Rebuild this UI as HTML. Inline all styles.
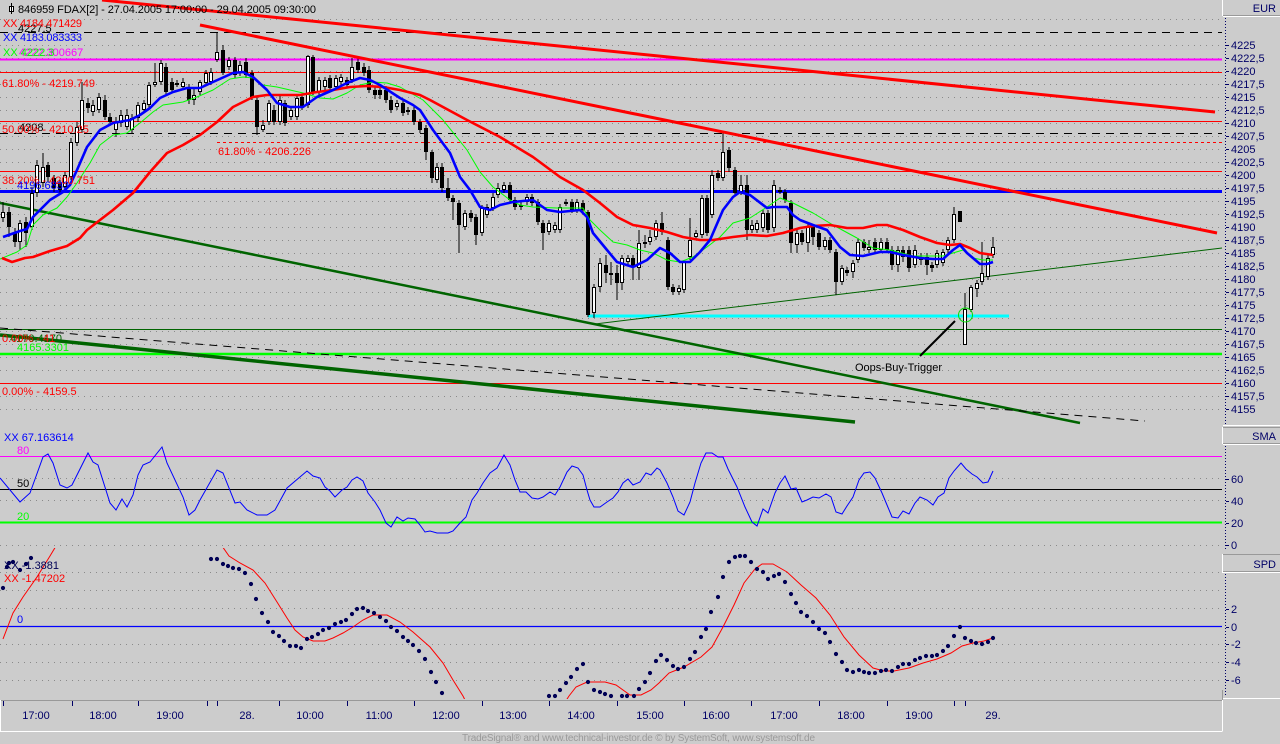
<!DOCTYPE html>
<html><head><meta charset="utf-8"><style>
html,body{margin:0;padding:0;background:#cccccc;}
svg{display:block;}
text{font-family:"Liberation Sans",sans-serif;font-size:11px;}
</style></head><body>
<svg xmlns="http://www.w3.org/2000/svg" width="1280" height="744" viewBox="0 0 1280 744">
<defs>
<clipPath id="spd"><rect x="0" y="548" width="1222" height="151"/></clipPath>
<clipPath id="sma"><rect x="0" y="440" width="1222" height="112"/></clipPath>
</defs>
<rect width="1280" height="744" fill="#cccccc"/>

<!-- grid dotted main -->
<g stroke="#8a8a8a" stroke-width="1" stroke-dasharray="1 5" fill="none">
<path d="M0 19.5H1222M0 45.5H1222M0 58.5H1222M0 71.5H1222M0 84.5H1222M0 97.5H1222M0 110.5H1222M0 123.5H1222M0 136.5H1222M0 149.5H1222M0 162.5H1222M0 175.5H1222M0 188.5H1222M0 201.5H1222M0 214.5H1222M0 227.5H1222M0 240.5H1222M0 253.5H1222M0 266.5H1222M0 279.5H1222M0 292.5H1222M0 305.5H1222M0 318.5H1222M0 331.5H1222M0 344.5H1222M0 357.5H1222M0 370.5H1222M0 383.5H1222M0 396.5H1222M0 409.5H1222"/>
<path d="M0 478.5H1222M0 500.5H1222M0 545.5H1222"/>
<path d="M0 572.5H1222M0 590.5H1222M0 608.5H1222M0 644.5H1222M0 662.5H1222M0 680.5H1222"/>
</g>

<!-- horizontal level lines -->
<g fill="none">
<path d="M0 32.5H1222" stroke="#000" stroke-dasharray="8 6"/>
<path d="M0 59.5H1222" stroke="#ff00ff" stroke-width="2"/>
<path d="M0 72.5H1222" stroke="#ff0000"/>
<path d="M0 121.5H1222" stroke="#ff0000"/>
<path d="M0 133.5H1222" stroke="#000" stroke-dasharray="8 6"/>
<path d="M217 142.5H1222" stroke="#ff0000" stroke-dasharray="3 3"/>
<path d="M0 171.5H1222" stroke="#ff0000"/>
<path d="M0 191.5H1222" stroke="#0000ff" stroke-width="3"/>
<path d="M0 329.5H1222" stroke="#006400"/>
<path d="M0 354H1222" stroke="#00ff00" stroke-width="2.5"/>
<path d="M0 383.5H1222" stroke="#ff0000"/>
<path d="M588 316H1009" stroke="#00ffff" stroke-width="3"/>
</g>

<!-- trend lines (under) -->
<g fill="none">
<path d="M0 203L1080 423" stroke="#006400" stroke-width="2.5"/>
<path d="M0 335L855 422" stroke="#006400" stroke-width="3.5"/>
<path d="M0 328L1145 421" stroke="#000" stroke-dasharray="8 6"/>
<path d="M595 324L1222 248" stroke="#006400" stroke-width="1"/>
</g>

<!-- candles -->
<g shape-rendering="crispEdges">
<path fill="none" stroke="#000" stroke-width="1" d="M3 202V222M9 207V237M15 228V247M20 220V250M26 217V247M32 187V230M37 160V197M43 153V187M48 162V182M54 175V192M60 180V194M65 172V190M71 138V180M77 122V146M82 82V133M88 98V113M93 100V116M99 93V113M105 95V120M110 113V126M116 117V137M121 110V127M127 109V130M132 114V133M138 102V122M144 100V113M149 82V108M155 63V87M161 60V85M166 63V95M172 78V93M177 80V87M183 78V90M189 84V104M194 87V105M200 80V95M206 70V86M211 68V85M217 32V62M223 45V75M229 57V70M235 57V78M240 61V76M246 58V78M252 70V100M257 97V135M263 120V132M269 100V125M274 105V125M280 96V125M285 100V126M291 106V120M297 95V120M302 94V110M308 55V108M313 55V95M319 77V95M325 77V90M330 75V92M336 75V90M341 74V85M347 77V88M352 58V83M358 58V73M364 63V76M369 66V93M375 86V99M380 86V99M386 86V103M391 96V113M397 100V110M403 100V116M408 107V115M414 107V125M420 119V133M426 125V160M432 150V183M437 163V183M442 163V192M448 178V201M453 195V220M459 200V253M465 210V230M471 210V222M476 214V245M482 205V236M487 204V218M493 193V211M498 183V198M504 182V193M510 182V203M515 197V210M521 202V210M527 194V205M532 194V206M538 199V225M543 220V250M549 220V235M555 222V233M560 204V233M566 199V206M572 199V213M577 199V213M583 200V213M588 210V317M594 284V318M600 258V292M606 255V283M611 262V285M617 265V300M622 255V290M628 255V265M633 255V280M639 230V280M645 235V248M650 230V245M656 220V240M662 212V235M668 237V290M673 284V295M679 285V295M684 260V293M690 218V260M696 230V240M702 195V238M707 195V236M712 170V218M718 170V181M723 133V181M729 147V172M735 167V196M741 175V195M747 175V240M752 220V233M757 220V233M763 210V232M768 210V233M774 180V232M780 187V194M785 189V203M791 200V253M797 230V253M802 230V245M808 224V252M813 224V245M819 230V250M825 237V250M830 237V253M836 249V295M842 265V285M847 267V276M853 260V278M858 238V263M864 239V251M869 240V253M875 238V253M881 238V253M887 238V253M892 246V270M898 246V272M903 246V262M909 246V272M915 245V268M921 253V265M927 253V275M932 262V272M937 250V268M943 249V266M948 237V253M954 207V243M965 293V345M971 285V312M977 280V297M982 242V285M988 255V280M993 237V258"/>
<path fill="#000" d="M7 212h4v15h-4zM13 233h4v9h-4zM24 222h4v11h-4zM46 165h4v12h-4zM52 178h4v10h-4zM58 183h4v7h-4zM86 103h4v5h-4zM103 100h4v17h-4zM108 117h4v5h-4zM164 67h4v25h-4zM170 82h4v8h-4zM175 83h4v2h-4zM187 87h4v13h-4zM221 50h4v23h-4zM233 60h4v15h-4zM244 62h4v13h-4zM250 73h4v24h-4zM255 100h4v27h-4zM272 110h4v12h-4zM283 103h4v20h-4zM300 97h4v10h-4zM311 57h4v35h-4zM328 78h4v10h-4zM345 80h4v5h-4zM356 62h4v8h-4zM362 67h4v6h-4zM367 70h4v20h-4zM373 90h4v5h-4zM378 90h4v5h-4zM384 90h4v10h-4zM389 100h4v10h-4zM401 103h4v10h-4zM412 110h4v12h-4zM418 122h4v8h-4zM424 128h4v24h-4zM430 152h4v26h-4zM440 167h4v21h-4zM446 188h4v10h-4zM451 198h4v4h-4zM457 203h4v22h-4zM469 213h4v5h-4zM474 217h4v18h-4zM508 185h4v15h-4zM513 200h4v7h-4zM530 197h4v6h-4zM536 202h4v20h-4zM541 223h4v10h-4zM570 202h4v8h-4zM581 203h4v7h-4zM586 212h4v103h-4zM604 265h4v8h-4zM615 273h4v10h-4zM631 258h4v9h-4zM660 223h4v9h-4zM666 240h4v47h-4zM671 287h4v5h-4zM705 198h4v35h-4zM716 173h4v5h-4zM727 150h4v18h-4zM733 170h4v23h-4zM745 185h4v45h-4zM766 213h4v17h-4zM783 192h4v8h-4zM789 203h4v40h-4zM800 233h4v9h-4zM811 227h4v10h-4zM817 233h4v14h-4zM828 240h4v10h-4zM834 252h4v30h-4zM845 270h4v3h-4zM862 242h4v6h-4zM873 242h4v8h-4zM885 242h4v8h-4zM890 250h4v15h-4zM901 250h4v7h-4zM907 250h4v18h-4zM919 257h4v3h-4zM925 257h4v8h-4zM930 265h4v3h-4zM958 211h4v11h-4z"/>
<path fill="#fff" stroke="#000" stroke-width="1" d="M1.5 212.5h3v5h-3zM18.5 223.5h3v18h-3zM30.5 193.5h3v33h-3zM35.5 165.5h3v27h-3zM41.5 167.5h3v15h-3zM63.5 175.5h3v11h-3zM69.5 142.5h3v34h-3zM75.5 127.5h3v15h-3zM80.5 100.5h3v29h-3zM91.5 105.5h3v6h-3zM97.5 97.5h3v12h-3zM114.5 122.5h3v7h-3zM119.5 115.5h3v7h-3zM125.5 115.5h3v11h-3zM130.5 118.5h3v11h-3zM136.5 105.5h3v12h-3zM142.5 103.5h3v6h-3zM147.5 85.5h3v19h-3zM153.5 82.5h3v2h-3zM159.5 63.5h3v18h-3zM181.5 82.5h3v4h-3zM192.5 95.5h3v4h-3zM198.5 82.5h3v9h-3zM204.5 73.5h3v9h-3zM209.5 72.5h3v9h-3zM215.5 52.5h3v7h-3zM227.5 60.5h3v6h-3zM238.5 65.5h3v7h-3zM261.5 125.5h3v4h-3zM267.5 103.5h3v18h-3zM278.5 100.5h3v21h-3zM289.5 110.5h3v6h-3zM295.5 98.5h3v18h-3zM306.5 56.5h3v48h-3zM317.5 80.5h3v11h-3zM323.5 80.5h3v6h-3zM334.5 78.5h3v8h-3zM339.5 77.5h3v4h-3zM350.5 67.5h3v12h-3zM395.5 103.5h3v3h-3zM406.5 110.5h3v1h-3zM435.5 167.5h3v12h-3zM463.5 213.5h3v13h-3zM480.5 208.5h3v24h-3zM485.5 207.5h3v7h-3zM491.5 197.5h3v10h-3zM496.5 188.5h3v6h-3zM502.5 185.5h3v4h-3zM519.5 205.5h3v1h-3zM525.5 197.5h3v4h-3zM547.5 223.5h3v8h-3zM553.5 225.5h3v4h-3zM558.5 207.5h3v22h-3zM564.5 202.5h3v1h-3zM575.5 202.5h3v7h-3zM592.5 287.5h3v25h-3zM598.5 263.5h3v23h-3zM609.5 273.5h3v1h-3zM620.5 258.5h3v24h-3zM626.5 258.5h3v3h-3zM637.5 243.5h3v24h-3zM643.5 242.5h3v1h-3zM648.5 237.5h3v4h-3zM654.5 223.5h3v13h-3zM677.5 288.5h3v3h-3zM682.5 262.5h3v27h-3zM688.5 240.5h3v16h-3zM694.5 233.5h3v3h-3zM700.5 198.5h3v36h-3zM710.5 175.5h3v39h-3zM721.5 152.5h3v25h-3zM739.5 185.5h3v6h-3zM750.5 225.5h3v4h-3zM755.5 223.5h3v6h-3zM761.5 213.5h3v14h-3zM772.5 185.5h3v42h-3zM778.5 190.5h3v1h-3zM795.5 233.5h3v11h-3zM806.5 227.5h3v15h-3zM823.5 240.5h3v6h-3zM840.5 268.5h3v13h-3zM851.5 263.5h3v8h-3zM856.5 242.5h3v17h-3zM867.5 247.5h3v2h-3zM879.5 242.5h3v7h-3zM896.5 250.5h3v14h-3zM913.5 250.5h3v14h-3zM935.5 253.5h3v11h-3zM941.5 252.5h3v10h-3zM946.5 240.5h3v9h-3zM952.5 214.5h3v25h-3zM963.5 309.5h3v35h-3zM969.5 287.5h3v22h-3zM975.5 283.5h3v5h-3zM980.5 273.5h3v8h-3zM986.5 258.5h3v18h-3zM991.5 247.5h3v7h-3z"/>
</g>

<!-- moving averages -->
<g fill="none" stroke-linejoin="round">
<polyline stroke="#00ff00" stroke-width="1" points="0,259 17,252 27,245 33,225 43,215 57,208 67,197 77,183 90,163 100,145 113,135 127,133 140,123 153,112 163,105 183,102 197,97 213,90 230,79 243,77 253,78 263,85 277,87 290,90 303,93 320,98 333,99 347,93 360,85 373,82 387,83 400,87 423,100 443,120 467,150 480,172 493,187 510,200 520,205 533,207 557,208 583,208 590,220 600,230 613,242 627,245 640,250 653,253 667,260 680,262 693,257 707,247 720,237 733,223 750,218 767,207 780,198 793,203 813,213 833,225 857,238 873,248 890,250 913,256 927,256 943,256 953,253 963,250 973,258 983,260 993,260"/>
<polyline stroke="#ff0000" stroke-width="2.6" points="2,258 12,262 25,258 33,257 50,251 67,246 80,238 87,230 100,220 113,210 133,193 150,172 167,153 183,145 200,135 217,122 233,107 253,97 267,95 300,95 317,92 333,90 350,87 367,86 383,87 400,90 420,95 430,100 467,120 500,137 533,157 560,177 583,190 600,203 617,217 633,225 650,228 667,232 683,237 700,240 713,240 733,237 750,235 767,236 783,233 800,228 813,226 830,225 847,228 863,228 877,225 887,225 903,230 920,237 937,243 950,245 960,244 970,248 980,253 993,255"/>
<polyline stroke="#0000ff" stroke-width="2.6" points="3,237 20,231 27,229 33,217 43,207 50,200 63,192 70,185 77,170 87,147 100,130 113,123 130,120 140,115 150,108 160,98 173,92 187,88 200,88 213,82 233,73 243,72 253,77 267,90 277,103 290,107 303,107 317,97 333,90 347,83 360,78 370,80 380,85 400,98 413,105 420,110 433,130 450,153 460,177 470,190 480,207 490,210 500,205 513,202 533,200 547,210 560,212 580,210 587,217 593,233 607,250 617,262 633,267 647,260 660,248 670,253 680,262 690,262 700,252 710,240 723,210 733,197 740,192 750,195 767,208 773,207 787,207 793,215 800,220 813,225 827,230 840,247 850,255 863,256 880,252 890,252 903,255 920,258 933,259 943,259 953,250 960,245 967,253 980,264 987,264 993,262"/>
</g>

<!-- red trend lines (over) -->
<g fill="none" stroke="#ff0000" stroke-width="3">
<path d="M102 0L1215 112"/>
<path d="M200 25L1217 233"/>
</g>

<!-- oops annotation -->
<circle cx="965.5" cy="315" r="7" fill="none" stroke="#00dd00" stroke-width="1"/>
<path d="M920 356L955 321" stroke="#000" stroke-width="2"/>
<text x="855" y="371" fill="#000">Oops-Buy-Trigger</text>

<!-- main labels -->
<text x="18" y="32" fill="#000">4227.5</text>
<text x="3" y="27" fill="#ff0000" textLength="79">XX 4184.471429</text>
<text x="3" y="41" fill="#0000ff" textLength="79">XX 4183.083333</text>
<text x="19" y="56" fill="#ff00ff">4222.300667</text>
<text x="3" y="56" fill="#00ff00">XX 4222.3</text>
<text x="2" y="87" fill="#ff0000">61.80% - 4219.749</text>
<text x="19" y="131" fill="#000">4208</text>
<text x="2" y="133" fill="#ff0000">50.00% - 4210.25</text>
<text x="218" y="155" fill="#ff0000">61.80% - 4206.226</text>
<text x="2" y="184" fill="#ff0000">38.20% - 4200.751</text>
<text x="17" y="189" fill="#0000ff">4196.6833</text>
<text x="10" y="342" fill="#006400">4170.4170</text>
<text x="2" y="342" fill="#ff0000">0.00% - 41</text>
<text x="17" y="351" fill="#00ff00">4165.3301</text>
<text x="2" y="395" fill="#ff0000">0.00% - 4159.5</text>

<!-- title -->
<rect x="9.5" y="6.5" width="4" height="5" fill="#fff" stroke="#000"/>
<path d="M11.5 3V14" stroke="#000"/>
<text x="18" y="13" fill="#000" textLength="298">846959  FDAX[2] - 27.04.2005 17:00:00 - 29.04.2005 09:30:00</text>

<!-- SMA panel -->
<g fill="none">
<path d="M0 456.5H1222" stroke="#ff00ff"/>
<path d="M0 489.5H1222" stroke="#000"/>
<path d="M0 522.5H1222" stroke="#00ff00" stroke-width="2"/>
</g>
<polyline clip-path="url(#sma)" fill="none" stroke="#0000ff" stroke-width="1" points="0,478 20,502 30,493 43,457 48,454 53,463 60,485 67,488 72,485 88,453 93,462 98,465 110,503 116,510 122,499 127,507 133,495 138,475 143,465 150,462 162,447 167,463 183,497 189,515 195,510 200,500 217,470 223,473 235,503 240,502 247,510 257,515 267,515 275,510 287,488 307,471 313,476 320,478 325,487 330,491 335,497 342,490 347,487 352,480 357,477 363,481 368,493 375,502 380,510 386,523 391,527 397,517 403,521 408,518 415,519 420,525 425,532 430,531 437,533 448,533 453,531 460,523 466,517 472,500 477,493 483,483 490,473 497,468 504,455 510,465 515,480 520,492 526,492 532,498 538,499 543,497 550,492 555,495 560,487 567,472 572,466 578,468 583,475 587,490 590,500 594,507 600,507 607,502 613,498 618,492 623,483 628,479 633,485 640,482 646,473 651,475 657,468 660,470 667,483 673,497 678,511 684,515 690,502 695,483 701,463 706,453 712,453 718,457 723,457 728,469 737,487 745,507 752,522 757,526 763,509 768,513 775,493 780,483 785,476 791,489 796,488 802,502 807,500 813,497 819,498 826,494 831,497 836,512 842,514 847,506 853,497 859,480 864,473 870,472 875,478 882,493 887,505 892,517 898,518 903,511 909,514 915,503 920,497 927,500 933,505 938,497 944,493 949,478 954,471 961,463 966,469 972,474 977,477 983,483 988,482 993,471"/>
<text x="4" y="441" fill="#0000ff">XX 67.163614</text>
<text x="17" y="454" fill="#ff00ff">80</text>
<text x="17" y="487" fill="#000">50</text>
<text x="17" y="520" fill="#00ff00">20</text>

<!-- SPD panel -->
<path d="M0 626.5H1222" stroke="#0000ff" stroke-width="1.2"/>
<g clip-path="url(#spd)" fill="none">
<path stroke="#ff0000" stroke-width="1" d="M3 639L13 613L23 597L37 577L50 556L56 546M222 546L229 556L240 563L253 570L265 583L277 602L287 618L295 630L303 637L313 641L325 641L333 638L343 633L353 627L363 620L373 615L387 615L400 622L413 632L430 647L443 663L453 680L463 696L470 710M560 710L569 696L576 687L587 682L605 682L616 685L630 695L641 695L651 690L659 683L669 673L684 667L701 657L712 647L723 627L734 605L744 583L755 569L762 564L773 564L787 572L801 585L816 598L830 615L844 637L859 655L873 668L884 671L894 671L909 668L923 663L937 659L951 653L962 646L973 643L984 641L993 638"/>
<path stroke="#000055" stroke-width="4.2" stroke-linecap="round" d="M3 588h0M7 567h0M9 563h0M13 562h0M20 570h0M26 564h0M31 558h0M211 559h0M217 559h0M223 564h0M228 566h0M233 568h0M239 569h0M245 573h0M251 584h0M256 599h0M262 613h0M268 622h0M273 632h0M279 636h0M284 641h0M290 646h0M296 646h0M301 648h0M307 639h0M312 637h0M318 634h0M323 630h0M329 628h0M335 624h0M341 622h0M346 620h0M352 614h0M357 609h0M363 608h0M368 611h0M374 613h0M380 617h0M386 621h0M391 627h0M397 631h0M403 637h0M408 641h0M413 645h0M419 651h0M425 659h0M431 672h0M436 682h0M442 693h0M549 696h0M555 696h0M560 690h0M566 683h0M571 677h0M577 669h0M583 664h0M588 682h0M594 690h0M600 692h0M605 694h0M611 696h0M622 696h0M627 696h0M634 696h0M639 689h0M645 682h0M650 673h0M656 661h0M661 655h0M667 660h0M673 666h0M678 669h0M684 667h0M690 659h0M695 652h0M701 637h0M706 629h0M711 612h0M718 597h0M723 577h0M729 562h0M735 557h0M740 556h0M745 556h0M751 562h0M757 569h0M763 572h0M768 579h0M774 576h0M779 574h0M785 582h0M791 594h0M796 603h0M801 612h0M807 616h0M813 622h0M819 629h0M825 633h0M830 642h0M836 654h0M842 662h0M847 670h0M853 672h0M859 670h0M864 672h0M869 673h0M875 673h0M881 671h0M886 670h0M892 671h0M898 667h0M903 664h0M909 664h0M915 660h0M920 658h0M926 656h0M932 656h0M937 655h0M943 651h0M948 646h0M954 636h0M960 627h0M965 638h0M971 641h0M976 643h0M982 644h0M988 642h0M993 638h0"/>
</g>
<text x="4" y="569" fill="#000055">XX -1.3881</text>
<text x="4" y="582" fill="#ff0000">XX -1.47202</text>
<text x="17" y="623" fill="#0000ff">0</text>

<!-- time axis -->
<path d="M0 700.5H1222" stroke="#999" stroke-width="1"/>
<path d="M0.5 700V731M0 731.5H1222.5M1222.5 700V731" stroke="#fff" fill="none"/>
<path d="M1222.5 690V700" stroke="#999"/>
<path d="M3.5 701V706M72.5 701V706M138.5 701V706M207.5 701V706M217.5 701V706M279.5 701V706M347.5 701V706M414.5 701V706M482.5 701V706M549.5 701V706M617.5 701V706M684.5 701V706M751.5 701V706M819.5 701V706M887.5 701V706M954.5 701V706M965.5 701V706" stroke="#000066"/>
<g fill="#000066" text-anchor="middle">
<text x="36" y="719">17:00</text><text x="103" y="719">18:00</text><text x="170" y="719">19:00</text><text x="247" y="719">28.</text><text x="310" y="719">10:00</text><text x="379" y="719">11:00</text><text x="446" y="719">12:00</text><text x="513" y="719">13:00</text><text x="581" y="719">14:00</text><text x="650" y="719">15:00</text><text x="716" y="719">16:00</text><text x="784" y="719">17:00</text><text x="851" y="719">18:00</text><text x="919" y="719">19:00</text><text x="993" y="719">29.</text>
</g>
<text x="462" y="741" fill="#9a9a9a" style="font-size:10px" textLength="353">TradeSignal® and www.technical-investor.de © by  SystemSoft, www.systemsoft.de</text>

<!-- right axis -->
<g fill="none">
<path d="M1222.5 0V16" stroke="#fff"/>
<path d="M1223 15.5H1280" stroke="#999"/>
<path d="M1223 16.5H1280" stroke="#fff"/>
<path d="M1223 425.5H1280" stroke="#fff"/>
<path d="M1223 427.5H1280" stroke="#999"/>
<path d="M1222.5 427V444" stroke="#fff"/>
<path d="M1223 443.5H1280" stroke="#999"/>
<path d="M1223 444.5H1280" stroke="#fff"/>
<path d="M1223 554.5H1280" stroke="#999"/>
<path d="M1222.5 554V573" stroke="#fff"/>
<path d="M1223 571.5H1280" stroke="#999"/>
<path d="M1223 572.5H1280" stroke="#fff"/>
<path d="M1223 698.5H1280" stroke="#fff"/>
<path d="M1225.5 18V424M1225.5 446V551M1225.5 574V697" stroke="#000066" stroke-dasharray="1 2"/>
<path stroke="#000066" d="M1226 45.5h3M1226 58.5h3M1226 71.5h3M1226 84.5h3M1226 97.5h3M1226 110.5h3M1226 123.5h3M1226 136.5h3M1226 149.5h3M1226 162.5h3M1226 175.5h3M1226 188.5h3M1226 201.5h3M1226 214.5h3M1226 227.5h3M1226 240.5h3M1226 253.5h3M1226 266.5h3M1226 279.5h3M1226 292.5h3M1226 305.5h3M1226 318.5h3M1226 331.5h3M1226 344.5h3M1226 357.5h3M1226 370.5h3M1226 383.5h3M1226 396.5h3M1226 409.5h3M1226 479.5h3M1226 501.5h3M1226 523.5h3M1226 545.5h3M1226 609.5h3M1226 627.5h3M1226 644.5h3M1226 662.5h3M1226 680.5h3"/>
</g>
<g fill="#000066">
<text x="1276" y="12" text-anchor="end">EUR</text>
<text x="1276" y="440" text-anchor="end">SMA</text>
<text x="1276" y="568" text-anchor="end">SPD</text>
<text x="1231" y="49">4225</text><text x="1231" y="62">4222,5</text><text x="1231" y="75">4220</text><text x="1231" y="88">4217,5</text><text x="1231" y="101">4215</text><text x="1231" y="114">4212,5</text><text x="1231" y="127">4210</text><text x="1231" y="140">4207,5</text><text x="1231" y="153">4205</text><text x="1231" y="166">4202,5</text><text x="1231" y="179">4200</text><text x="1231" y="192">4197,5</text><text x="1231" y="205">4195</text><text x="1231" y="218">4192,5</text><text x="1231" y="231">4190</text><text x="1231" y="244">4187,5</text><text x="1231" y="257">4185</text><text x="1231" y="270">4182,5</text><text x="1231" y="283">4180</text><text x="1231" y="296">4177,5</text><text x="1231" y="309">4175</text><text x="1231" y="322">4172,5</text><text x="1231" y="335">4170</text><text x="1231" y="348">4167,5</text><text x="1231" y="361">4165</text><text x="1231" y="374">4162,5</text><text x="1231" y="387">4160</text><text x="1231" y="400">4157,5</text><text x="1231" y="413">4155</text>
<text x="1231" y="483">60</text><text x="1231" y="505">40</text><text x="1231" y="527">20</text><text x="1231" y="549">0</text>
<text x="1231" y="613">2</text><text x="1231" y="631">0</text><text x="1231" y="648">-2</text><text x="1231" y="666">-4</text><text x="1231" y="684">-6</text>
</g>
</svg>
</body></html>
